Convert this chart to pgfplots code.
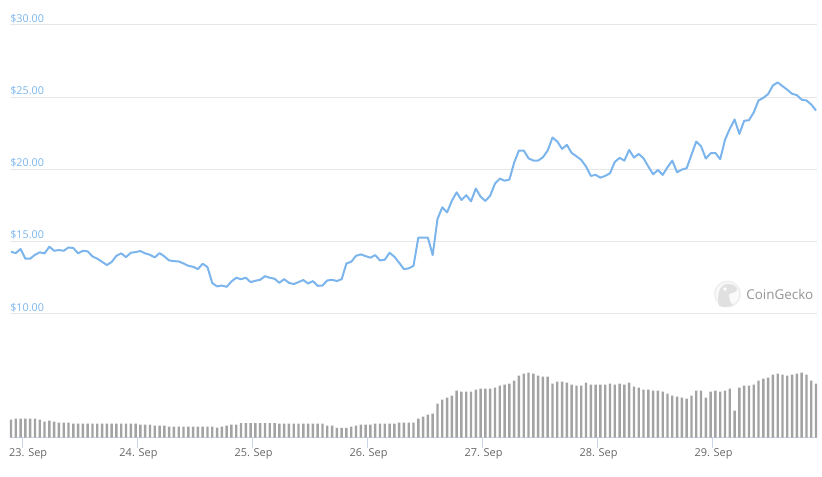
\documentclass[border=0pt]{standalone}
\usepackage{fontspec}
\setmainfont{Open Sans}
\usepackage{pgfplots}
\usepackage{pgfplotstable}
\pgfplotsset{compat=1.18}
\definecolor{priceblue}{HTML}{7CB5EC}
\definecolor{gridgrey}{HTML}{E6E6E6}
\definecolor{axisblue}{HTML}{CCD6EB}
\definecolor{volgrey}{HTML}{A3A3A3}
\definecolor{ticktext}{HTML}{666666}

% hour, price in dollars, volume bar height
\pgfplotstableread{
h p v
0 14.28 18
1 14.19 19
2 14.47 19
3 13.80 19
4 13.80 19
5 14.07 19
6 14.24 18
7 14.17 16
8 14.63 17
9 14.35 16
10 14.40 15
11 14.35 15
12 14.58 15
13 14.54 14
14 14.17 14
15 14.35 14
16 14.31 14
17 13.96 14
18 13.80 14
19 13.59 14
20 13.36 14
21 13.57 14
22 14.00 14
23 14.17 14
24 13.91 14
25 14.21 14
26 14.26 14
27 14.33 13
28 14.17 13
29 14.07 13
30 13.89 12
31 14.19 12
32 13.96 12
33 13.68 11
34 13.63 11
35 13.61 11
36 13.47 11
37 13.31 11
38 13.24 11
39 13.08 11
40 13.45 11
41 13.22 11
42 12.11 11
43 11.88 10
44 11.94 11
45 11.85 12
46 12.22 13
47 12.48 13
48 12.38 14.5
49 12.48 14.5
50 12.18 14.5
51 12.27 14.5
52 12.34 14.5
53 12.59 14.5
54 12.48 14.5
55 12.41 14.5
56 12.13 14
57 12.38 14
58 12.13 14
59 12.04 14
60 12.18 14
61 12.32 14
62 12.08 14
63 12.25 14
64 11.92 14
65 11.94 14
66 12.29 12
67 12.34 12
68 12.25 9.7
69 12.38 9.7
70 13.47 9.7
71 13.59 11
72 14.00 12
73 14.10 13
74 13.98 13
75 13.87 13
76 14.05 14
77 13.68 14
78 13.73 14
79 14.21 14
80 13.94 14
81 13.52 15
82 13.08 15
83 13.13 15
84 13.31 15
85 15.26 19
86 15.26 21
87 15.26 23
88 14.05 24
89 16.55 34
90 17.36 38
91 17.01 40
92 17.82 42
93 18.40 47
94 17.87 46
95 18.20 46
96 17.78 46
97 18.66 48
98 18.10 49
99 17.80 49
100 18.17 49
101 19.01 50
102 19.35 52
103 19.21 53
104 19.28 54
105 20.46 57
106 21.30 62
107 21.30 64
108 20.76 65
109 20.60 64
110 20.60 62
111 20.83 61
112 21.30 61
113 22.20 54
114 21.92 56
115 21.41 56
116 21.69 55
117 21.13 53
118 20.90 52
119 20.65 52
120 20.19 55
121 19.54 53
122 19.61 53
123 19.42 53
124 19.54 53
125 19.72 54
126 20.51 53
127 20.79 54
128 20.60 53
129 21.34 55
130 20.81 51
131 21.06 50
132 20.76 48
133 20.19 48
134 19.65 47
135 19.95 47
136 19.61 46
137 20.14 44
138 20.60 42
139 19.79 41
140 19.98 40
141 20.07 39
142 21.00 42
143 21.92 47
144 21.60 47
145 20.74 40
146 21.11 46
147 21.13 47
148 20.69 46
149 22.04 47
150 22.80 49
151 23.45 27
152 22.45 50
153 23.36 52
154 23.40 52
155 23.94 53
156 24.77 57
157 24.95 59
158 25.21 60
159 25.81 63
160 26.02 64
161 25.76 63
162 25.51 62
163 25.23 63
164 25.14 64
165 24.82 65
166 24.77 63
167 24.49 57
168 24.07 54
}\coin

\begin{document}
\begin{tikzpicture}[x=0.75pt,y=0.75pt]
\useasboundingbox (0,0) rectangle (822,477);

% price panel
\begin{axis}[
  at={(7.5pt,122.6pt)}, anchor=south west,
  width=605.25pt, height=216.4pt, scale only axis,
  xmin=-0.21, xmax=168.2, ymin=10, ymax=30,
  axis line style={draw=none}, xtick=\empty,
  ytick={10,15,20,25,30},
  yticklabels={\$10.00,\$15.00,\$20.00,\$25.00,\$30.00},
  major tick length=0pt,
  ymajorgrids, grid style={gridgrey, line width=0.75pt},
  yticklabel style={font=\fontsize{8.1}{10}\selectfont, text=priceblue, anchor=south west, inner sep=0pt, yshift=1.2pt},
  y tick label style={at={(axis description cs:0,0)}},
  clip=false]
  \addplot[priceblue, line width=1.5pt, line join=round] table[x=h, y=p] {\coin};
\end{axis}

% volume panel
\begin{axis}[
  at={(7.5pt,29.6pt)}, anchor=south west,
  width=605.25pt, height=75pt, scale only axis,
  xmin=-0.21, xmax=168.2, ymin=0, ymax=100,
  axis x line=bottom, axis y line=none,
  x axis line style={draw=axisblue, line width=0.75pt, -},
  xtick={2.4,26.4,50.4,74.4,98.4,122.4,146.4},
  xticklabels={\hspace*{7pt}23. Sep,24. Sep,25. Sep,26. Sep,27. Sep,28. Sep,29. Sep},
  tick align=outside, major tick length=7.5pt,
  tick style={draw=axisblue, line width=0.75pt},
  xticklabel style={font=\fontsize{8.2}{10}\selectfont, text=ticktext, inner sep=0pt, xshift=0.75pt, yshift=-0.75pt},
  clip=false]
  \addplot[ybar, bar width=1.8pt, fill=volgrey, draw=none] table[x=h, y=v] {\coin};
\end{axis}

% CoinGecko watermark
\fill[black!6] (727.5,183) circle (13.5);
\fill[black!2] (727.5,183) circle (11.5);
\fill[black!12] (719,171) .. controls (717,180) and (718,192) .. (727,193) .. controls (732,193) and (737,191) .. (737,187.5) .. controls (737,185) and (732,184) .. (729,183) .. controls (729,178) and (730,174) .. (733,172) .. controls (728,169.5) and (723,169.5) .. (719,171) -- cycle;
\fill[white] (725,188) circle (1.8);
\node[anchor=west, inner sep=0pt, text=black!42, font=\fontsize{10.1}{12}\selectfont] at (746,183) {CoinGecko};
\end{tikzpicture}
\end{document}
